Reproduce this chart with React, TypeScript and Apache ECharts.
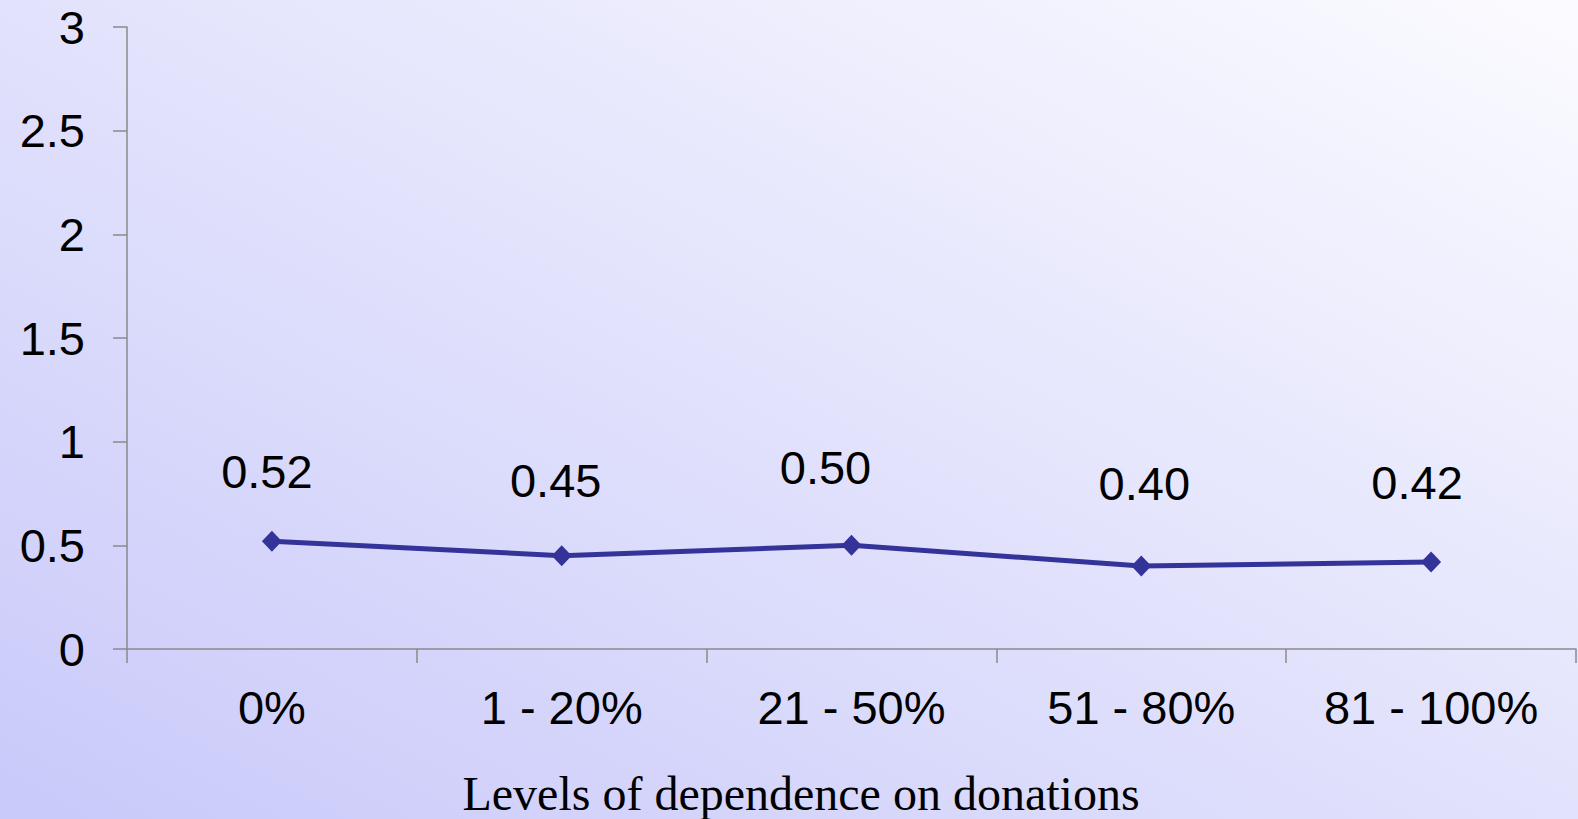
import React, { useEffect, useRef } from "react";
import * as echarts from "echarts";

const categories = ["0%", "1 - 20%", "21 - 50%", "51 - 80%", "81 - 100%"];
const values = [0.52, 0.45, 0.5, 0.4, 0.42];
const yTicks = { min: 0, max: 3, interval: 0.5 };
const axisTitle = "Levels of dependence on donations";

// label offsets (styling), relative to the point centre
const labelOffsets: [number, number][] = [
  [-5, -70],
  [-6, -75],
  [-26, -78],
  [3, -83],
  [-14, -79],
];

export default function App() {
  const ref = useRef<HTMLDivElement>(null);
  useEffect(() => {
    document.body.style.margin = "0";
    if (!ref.current) return;
    const chart = echarts.init(ref.current, undefined, { renderer: "svg" });
    const sans = '"Liberation Sans", Arial, sans-serif';
    chart.setOption({
      animation: false,
      backgroundColor: "transparent",
      grid: { left: 127, right: 2, top: 27, bottom: 170, containLabel: false },
      xAxis: {
        type: "category",
        data: categories,
        boundaryGap: true,
        axisLine: { show: true, lineStyle: { color: "#8a8a8a", width: 1.5 } },
        axisTick: { show: true, length: 14, inside: false, alignWithLabel: false, lineStyle: { color: "#8a8a8a", width: 1.5 } },
        axisLabel: { color: "#000", fontSize: 47, fontFamily: sans, margin: 35 },
        splitLine: { show: false },
      },
      yAxis: {
        type: "value",
        min: yTicks.min,
        max: yTicks.max,
        interval: yTicks.interval,
        axisLine: { show: true, lineStyle: { color: "#8a8a8a", width: 1.5 } },
        axisTick: { show: true, length: 14, lineStyle: { color: "#8a8a8a", width: 1.5 } },
        axisLabel: { color: "#000", fontSize: 47, fontFamily: sans, margin: 42 },
        splitLine: { show: false },
      },
      series: [
        {
          type: "line",
          data: values.map((v, i) => ({
            value: v,
            label: { offset: labelOffsets[i] },
          })),
          symbol: "diamond",
          symbolSize: [20, 21],
          lineStyle: { color: "#333399", width: 5 },
          itemStyle: { color: "#333399" },
          label: {
            show: true,
            position: "inside",
            color: "#000",
            fontSize: 47,
            fontFamily: sans,
            formatter: (p: any) => Number(p.value).toFixed(2),
          },
        },
      ],
      graphic: [
        {
          type: "text",
          x: 801,
          y: 793,
          style: {
            text: axisTitle,
            fill: "#000",
            font: '48px "Liberation Serif", "Times New Roman", serif',
            textAlign: "center",
            textVerticalAlign: "middle",
          },
        },
      ],
    });
    return () => chart.dispose();
  }, []);
  return (
    <div
      style={{
        width: 1578,
        height: 819,
        background: "linear-gradient(to top right, #c9c9fa, #fbfbff)",
      }}
    >
      <div ref={ref} style={{ width: 1578, height: 819 }} />
    </div>
  );
}
